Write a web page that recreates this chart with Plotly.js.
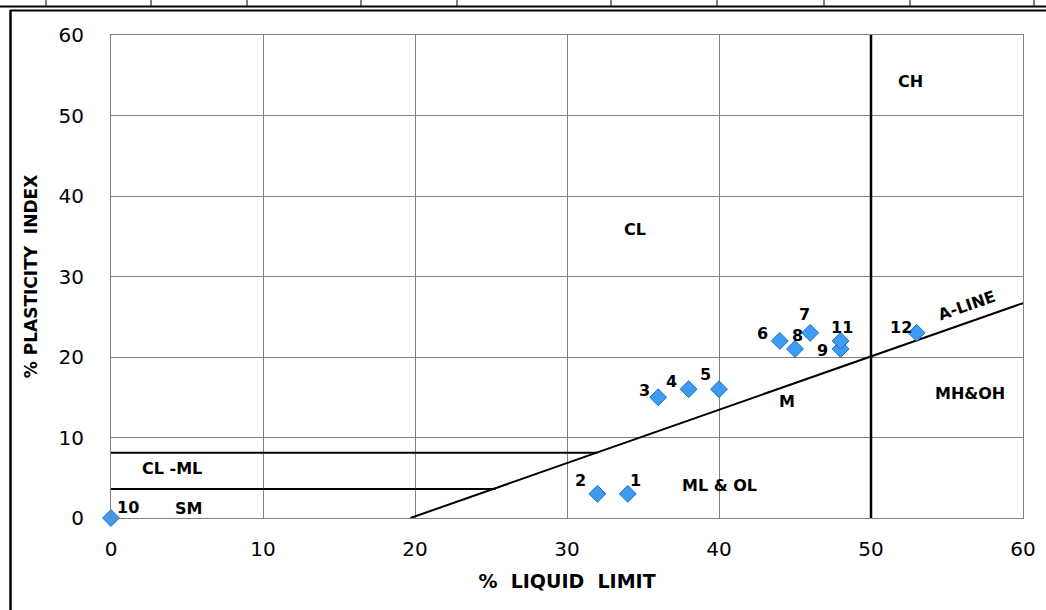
<!DOCTYPE html>
<html>
<head>
<meta charset="utf-8">
<script src="https://cdn.plot.ly/plotly-3.0.1.min.js"></script>
<style>html,body{margin:0;padding:0;background:#fff;}#chart{width:1046px;height:610px;}</style>
</head>
<body>
<div id="chart"></div>
<script>
// ---- data ----
const sampleLabels = ["1","2","3","4","5","6","7","8","9","10","11","12"];
const liquidLimit  = [34, 32, 36, 38, 40, 44, 46, 45, 48, 0, 48, 53];
const plasticityIx = [3, 3, 15, 16, 16, 22, 23, 21, 21, 0, 22, 23];

const aLineLL = [19.7, 60];
const aLinePI = [0, 26.7];
const clmlUpperLL = [0, 32];
const clmlUpperPI = [8.1, 8.1];
const clmlLowerLL = [0, 25.3];
const clmlLowerPI = [3.6, 3.6];
const llBoundaryLL = [50, 50];
const llBoundaryPI = [0, 60];

const zoneNames = ["CH", "CL", "M", "MH&OH", "ML & OL", "CL -ML", "SM"];
const zoneLL    = [52.6, 34.5, 44.5, 56.5, 40.0, 4.0, 5.1];
const zonePI    = [54.2, 35.8, 14.5, 15.5, 4.1, 6.2, 1.2];

const xTickVals = [0, 10, 20, 30, 40, 50, 60];
const yTickVals = [0, 10, 20, 30, 40, 50, 60];

// label offsets in pixels (style only)
const labelShift = {
  "1": [8, 13], "2": [-17, 13], "3": [-14, 7], "4": [-17, 8], "5": [-14, 15],
  "6": [-17, 7], "7": [-6, 18], "8": [2, 13], "9": [-18, -2], "10": [17, 11],
  "11": [1, 13], "12": [-16, 5]
};

const boldFont = "'DejaVu Sans', sans-serif";

const traces = [
  {x: aLineLL, y: aLinePI, mode: 'lines', line: {color: '#000', width: 2}, hoverinfo: 'skip'},
  {x: clmlUpperLL, y: clmlUpperPI, mode: 'lines', line: {color: '#000', width: 2}, hoverinfo: 'skip'},
  {x: clmlLowerLL, y: clmlLowerPI, mode: 'lines', line: {color: '#000', width: 2}, hoverinfo: 'skip'},
  {x: llBoundaryLL, y: llBoundaryPI, mode: 'lines', line: {color: '#000', width: 2.5}, hoverinfo: 'skip'},
  {x: liquidLimit, y: plasticityIx, text: sampleLabels, mode: 'markers', cliponaxis: false,
   marker: {symbol: 'diamond', size: 13, color: '#3b9cf2', line: {color: '#1f6fc4', width: 1}}}
];

const annotations = [];
sampleLabels.forEach((lab, i) => {
  annotations.push({x: liquidLimit[i], y: plasticityIx[i], text: '<b>' + lab + '</b>', showarrow: false,
    xshift: labelShift[lab][0], yshift: labelShift[lab][1],
    font: {family: boldFont, size: 16, color: '#000'}});
});
zoneNames.forEach((z, i) => {
  annotations.push({x: zoneLL[i], y: zonePI[i], text: '<b>' + z + '</b>', showarrow: false,
    font: {family: boldFont, size: 16, color: '#000'}});
});
annotations.push({x: 56.3, y: 26.4, text: '<b>A-LINE</b>', showarrow: false, textangle: -19,
  font: {family: boldFont, size: 16, color: '#000'}});

// decorative frame (paper coords)
const W = 1046, H = 610, L = 111, R = 23, T = 35, B = 92;
const pw = W - L - R, ph = H - T - B;
const px = v => (v - L) / pw;
const py = v => (H - B - v) / ph;
const shapes = [];
[46, 151, 247, 361, 457, 611, 717, 824, 910, 1034].forEach(xv => {
  shapes.push({type: 'line', xref: 'paper', yref: 'paper', x0: px(xv), x1: px(xv), y0: py(0), y1: py(6), line: {color: '#000', width: 1}});
});
shapes.push({type: 'line', xref: 'paper', yref: 'paper', x0: px(0), x1: px(W), y0: py(6.5), y1: py(6.5), line: {color: '#000', width: 2}});
shapes.push({type: 'line', xref: 'paper', yref: 'paper', x0: px(10), x1: px(W), y0: py(10.5), y1: py(10.5), line: {color: '#000', width: 2}});
shapes.push({type: 'line', xref: 'paper', yref: 'paper', x0: px(10.5), x1: px(10.5), y0: py(10), y1: py(H), line: {color: '#000', width: 2.5}});

const layout = {
  width: W, height: H,
  margin: {l: L, r: R, t: T, b: B},
  paper_bgcolor: '#fff', plot_bgcolor: '#fff',
  showlegend: false,
  xaxis: {range: [0, 60], tickvals: xTickVals, showgrid: true, gridcolor: '#808080', gridwidth: 1,
    zeroline: false, showline: true, linecolor: '#808080', mirror: true, ticks: '', ticklabelstandoff: 13,
    tickfont: {family: 'DejaVu Sans', size: 20, color: '#000'},
    title: {text: '<b>%&nbsp;&nbsp;LIQUID&nbsp;&nbsp;LIMIT</b>', font: {family: boldFont, size: 19, color: '#000'}, standoff: 14}},
  yaxis: {range: [0, 60], tickvals: yTickVals, showgrid: true, gridcolor: '#808080', gridwidth: 1,
    zeroline: false, showline: true, linecolor: '#808080', mirror: true, ticks: '', ticklabelstandoff: 22,
    tickfont: {family: 'DejaVu Sans', size: 20, color: '#000'},
    title: {text: '<b>% PLASTICITY&nbsp;&nbsp;INDEX</b>', font: {family: boldFont, size: 17, color: '#000'}, standoff: 16}},
  annotations: annotations,
  shapes: shapes
};

Plotly.newPlot('chart', traces, layout, {displayModeBar: false, staticPlot: true});
</script>
</body>
</html>
